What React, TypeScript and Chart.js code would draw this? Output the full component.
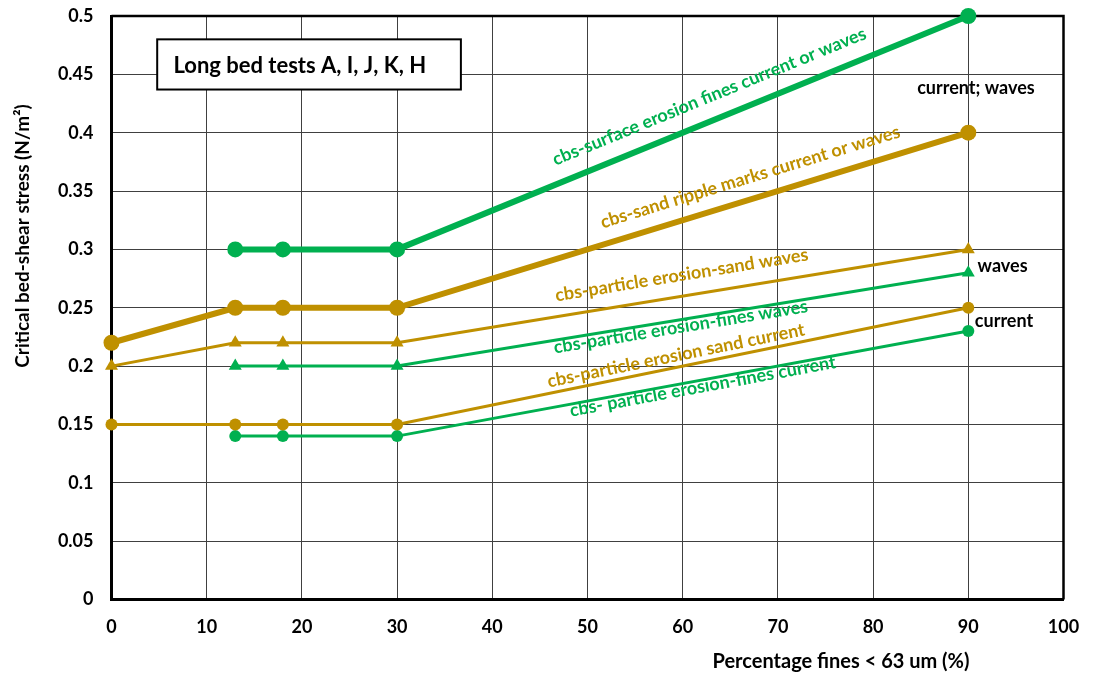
import React, { useEffect, useRef } from "react";
import { Chart, registerables } from "chart.js";

Chart.register(...registerables);

const GREEN = "#00B050";
const GOLD = "#BF9000";
const FONT = "Lato, 'Open Sans', sans-serif";

// Percentage fines (x values)
const xAll = [0, 13, 18, 30, 90];
const xFines = [13, 18, 30, 90];

// Critical bed-shear stress (N/m2)
const surfaceErosionFines = [0.3, 0.3, 0.3, 0.5];
const sandRippleMarks = [0.22, 0.25, 0.25, 0.25, 0.4];
const particleSandWaves = [0.2, 0.22, 0.22, 0.22, 0.3];
const particleFinesWaves = [0.2, 0.2, 0.2, 0.28];
const particleSandCurrent = [0.15, 0.15, 0.15, 0.15, 0.25];
const particleFinesCurrent = [0.14, 0.14, 0.14, 0.23];

const xTickValues = [0, 10, 20, 30, 40, 50, 60, 70, 80, 90, 100];
const yTickValues = [0, 0.05, 0.1, 0.15, 0.2, 0.25, 0.3, 0.35, 0.4, 0.45, 0.5];

const xTitle = "Percentage fines < 63 um (%)";
const yTitle = "Critical bed-shear stress (N/m\u00B2)";
const boxText = "Long bed tests A, I, J, K, H";

// Labels written along the lines (anchor in data units, angle follows dataset's last segment)
const lineLabels = [
  { text: "cbs-surface erosion fines current or waves", color: GREEN, x: 62.8, y: 0.431, ds: 0 },
  { text: "cbs-sand ripple marks current or waves", color: GOLD, x: 67.1, y: 0.362, ds: 1 },
  { text: "cbs-particle erosion-sand waves", color: GOLD, x: 59.9, y: 0.278, ds: 2 },
  { text: "cbs-particle erosion-fines waves", color: GREEN, x: 59.8, y: 0.2335, ds: 3 },
  { text: "cbs-particle erosion sand current", color: GOLD, x: 59.3, y: 0.209, ds: 4 },
  { text: "cbs- particle erosion-fines current", color: GREEN, x: 62.1, y: 0.1825, ds: 5 },
];

const sideLabels = [
  { text: "current; waves", x: 90.8, y: 0.438 },
  { text: "waves", x: 93.6, y: 0.286 },
  { text: "current", x: 93.75, y: 0.2386 },
];

const toPoints = (xs: number[], ys: number[]) => xs.map((x, i) => ({ x, y: ys[i] }));

const overlayPlugin = {
  id: "overlay",
  beforeDatasetsDraw(chart: any) {
    const { ctx, chartArea: a, scales } = chart;
    const xs = scales.x;
    const ys = scales.y;
    ctx.save();
    // top & right frame
    ctx.strokeStyle = "#000";
    ctx.lineWidth = 2.5;
    ctx.beginPath();
    ctx.moveTo(a.left, a.top);
    ctx.lineTo(a.right, a.top);
    ctx.lineTo(a.right, a.bottom);
    ctx.stroke();
    // box
    const bl = xs.getPixelForValue(4.8);
    const br = xs.getPixelForValue(36.7);
    const bt = ys.getPixelForValue(0.48);
    const bb = ys.getPixelForValue(0.437);
    ctx.fillStyle = "#fff";
    ctx.fillRect(bl, bt, br - bl, bb - bt);
    ctx.lineWidth = 2;
    ctx.strokeRect(bl, bt, br - bl, bb - bt);
    ctx.fillStyle = "#000";
    ctx.font = `bold 22px ${FONT}`;
    ctx.textAlign = "left";
    ctx.textBaseline = "middle";
    ctx.fillText(boxText, xs.getPixelForValue(6.5), (bt + bb) / 2 + 1);
    ctx.restore();
  },
  afterDraw(chart: any) {
    const { ctx, scales } = chart;
    const xs = scales.x;
    const ys = scales.y;
    ctx.save();
    ctx.textAlign = "center";
    ctx.textBaseline = "middle";
    // along-line labels
    ctx.font = `bold 18px ${FONT}`;
    for (const l of lineLabels) {
      const meta = chart.getDatasetMeta(l.ds);
      const n = meta.data.length;
      const p0 = meta.data[n - 2];
      const p1 = meta.data[n - 1];
      const ang = Math.atan2(p1.y - p0.y, p1.x - p0.x);
      ctx.save();
      ctx.translate(xs.getPixelForValue(l.x), ys.getPixelForValue(l.y));
      ctx.rotate(ang);
      ctx.fillStyle = l.color;
      ctx.fillText(l.text, 0, 0);
      ctx.restore();
    }
    // side labels
    ctx.fillStyle = "#000";
    ctx.font = `bold 18px ${FONT}`;
    for (const s of sideLabels) {
      ctx.fillText(s.text, xs.getPixelForValue(s.x), ys.getPixelForValue(s.y));
    }
    // axis titles
    ctx.font = `bold 20px ${FONT}`;
    ctx.fillText(xTitle, 841, 662);
    ctx.save();
    ctx.translate(23, 236);
    ctx.rotate(-Math.PI / 2);
    ctx.font = `bold 19px ${FONT}`;
    ctx.fillText(yTitle, 0, 0);
    ctx.restore();
    ctx.restore();
  },
};

const zeroPad = (s: any) => {
  s.paddingTop = 0;
  s.paddingBottom = 0;
  s.paddingLeft = 0;
  s.paddingRight = 0;
};

export default function App() {
  const ref = useRef<HTMLCanvasElement | null>(null);
  useEffect(() => {
    if (!ref.current) return;
    const thick = (label: string, xs: number[], ys: number[], color: string) => ({
      label,
      data: toPoints(xs, ys),
      showLine: true,
      borderColor: color,
      backgroundColor: color,
      borderWidth: 6,
      pointRadius: 8,
      pointHoverRadius: 8,
      pointStyle: "circle",
      pointBorderWidth: 0,
      clip: false,
    });
    const thin = (label: string, xs: number[], ys: number[], color: string, style: string) => ({
      label,
      data: toPoints(xs, ys),
      showLine: true,
      borderColor: color,
      backgroundColor: color,
      borderWidth: 3,
      pointRadius: style === "triangle" ? 7.5 : 6,
      pointHoverRadius: 6,
      pointStyle: style,
      pointBorderWidth: 0,
      clip: false,
    });
    const chart = new Chart(ref.current, {
      type: "scatter",
      data: {
        datasets: [
          thick("cbs-surface erosion fines current or waves", xFines, surfaceErosionFines, GREEN),
          thick("cbs-sand ripple marks current or waves", xAll, sandRippleMarks, GOLD),
          thin("cbs-particle erosion-sand waves", xAll, particleSandWaves, GOLD, "triangle"),
          thin("cbs-particle erosion-fines waves", xFines, particleFinesWaves, GREEN, "triangle"),
          thin("cbs-particle erosion sand current", xAll, particleSandCurrent, GOLD, "circle"),
          thin("cbs- particle erosion-fines current", xFines, particleFinesCurrent, GREEN, "circle"),
        ] as any,
      },
      options: {
        responsive: false,
        animation: false,
        layout: { padding: { top: 16, right: 29.5, bottom: 0, left: 0 } },
        plugins: {
          legend: { display: false },
          tooltip: { enabled: false },
        },
        scales: {
          x: {
            type: "linear",
            min: 0,
            max: 100,
            afterFit: (s: any) => {
              s.height = 77.5;
              zeroPad(s);
            },
            afterBuildTicks: (s: any) => {
              s.ticks = xTickValues.map((v) => ({ value: v }));
            },
            ticks: {
              padding: 17,
              color: "#000",
              font: { family: FONT, weight: "bold", size: 18 },
              callback: (v: any) => String(v),
            },
            grid: { color: "#404040", lineWidth: 1, drawTicks: false },
            border: { color: "#000", width: 3 },
          },
          y: {
            type: "linear",
            min: 0,
            max: 0.5,
            afterFit: (s: any) => {
              s.width = 111.5;
              zeroPad(s);
            },
            afterBuildTicks: (s: any) => {
              s.ticks = yTickValues.map((v) => ({ value: v }));
            },
            ticks: {
              padding: 18,
              color: "#000",
              font: { family: FONT, weight: "bold", size: 18 },
              callback: (v: any) => String(Number(Number(v).toFixed(2))),
            },
            grid: { color: "#404040", lineWidth: 1, drawTicks: false },
            border: { color: "#000", width: 3 },
          },
        },
      } as any,
      plugins: [overlayPlugin],
    });
    return () => chart.destroy();
  }, []);
  return (
    <div style={{ position: "fixed", left: 0, top: 0, width: 1093, height: 677, background: "#fff" }}>
      <canvas ref={ref} width={1093} height={677} style={{ display: "block" }} />
    </div>
  );
}
